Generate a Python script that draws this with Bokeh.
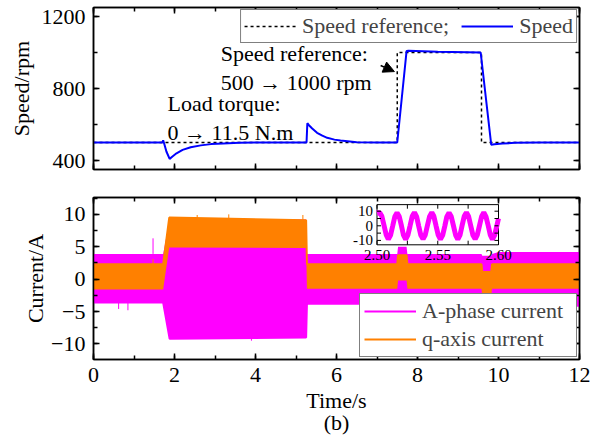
from bokeh.plotting import figure
from bokeh.layouts import column
from bokeh.models import (Range1d, SingleIntervalTicker, LinearAxis, Legend,
                          LegendItem, Label, Arrow, NormalHead, CustomJSTickFormatter)
from bokeh.embed import file_html
from bokeh.resources import INLINE
from bokeh.core.properties import value

FONT = "'Liberation Serif', serif"
FS = "22px"
BLUE = "#0000FF"
MAG = "#FF00FF"
ORA = "#FF8000"

# ---------------- data ----------------
# speed reference (rpm)
ref_t = [0, 7.50, 7.50, 9.58, 9.58, 12]
ref_v = [500, 500, 1000, 1000, 500, 500]

# measured speed (rpm)
spd_t = [0, 1.70, 1.72, 1.75, 1.80, 1.88, 1.95, 2.05, 2.20, 2.40, 2.65, 2.90, 3.20, 3.60, 4.00,
         5.26, 5.28, 5.32, 5.40, 5.52, 5.65, 5.77, 5.95, 6.10, 6.50, 7.00, 7.50, 7.73, 7.78, 8.50,
         9.56, 9.82, 9.90, 10.10, 10.40, 11.0, 12.0]
spd_v = [500, 500, 512, 490, 450, 409, 422, 440, 459, 474, 484, 491, 495, 498, 500,
         500, 607, 596, 578, 554, 538, 526, 516, 511, 502, 500, 500, 1008, 1010, 1004,
         1000, 488, 490, 494, 498, 500, 500]

# A-phase current envelope (A)
mag_t = [0, 1.72, 1.88, 5.25, 5.27, 7.50, 7.52, 7.73, 7.75, 9.58, 9.60, 9.82, 9.84, 10.0, 12]
mag_hi = [3.9, 3.9, 9.3, 9.2, 3.9, 3.9, 5.0, 5.0, 3.9, 3.9, 3.6, 3.6, 3.9, 4.2, 4.2]
mag_lo = [-3.6, -3.6, -9.2, -9.0, -3.8, -3.8, -3.6, -3.6, -3.8, -3.8, -4.6, -4.6, -3.8, -3.9, -4.1]

# q-axis current envelope (A)
q_t = [0, 1.72, 1.87, 5.25, 5.27, 7.50, 7.52, 7.73, 7.75, 9.58, 9.60, 9.82, 9.84, 12]
q_hi = [2.3, 2.3, 9.5, 9.1, 2.3, 2.3, 3.7, 3.7, 2.3, 2.3, 1.1, 1.1, 2.3, 2.3]
q_lo = [-1.6, -1.6, 4.9, 4.8, -1.5, -1.5, -0.2, -0.2, -1.5, -1.5, -2.7, -2.7, -1.5, -1.5]

# noise spikes
mag_spk_t = [0.62, 0.85, 1.47, 3.9, 11.9]
mag_spk_lo = [-4.6, -4.8, 3.9, -9.2, -4.6]
mag_spk_hi = [-3.6, -3.6, 6.3, -9.5, -4.1]
q_spk_t = [1.47, 2.56, 3.34, 5.17]
q_spk_lo = [2.3, 9.4, 9.4, 9.1]
q_spk_hi = [3.1, 9.9, 10.0, 9.9]

# zoomed A-phase current (inset)
ins_t = [2.5000, 2.5022, 2.5040, 2.5058, 2.5076, 2.5093, 2.5111, 2.5129, 2.5147, 2.5165, 2.5183,
         2.5201, 2.5218, 2.5236, 2.5254, 2.5272, 2.5290, 2.5308, 2.5326, 2.5343, 2.5361, 2.5379,
         2.5397, 2.5415, 2.5433, 2.5451, 2.5468, 2.5486, 2.5504, 2.5522, 2.5540, 2.5558, 2.5575,
         2.5593, 2.5611, 2.5629, 2.5647, 2.5665, 2.5683, 2.5700, 2.5718, 2.5736, 2.5754, 2.5772,
         2.5790, 2.5808, 2.5825, 2.5843, 2.5861, 2.5879, 2.5897, 2.5915, 2.5933, 2.5950, 2.5968,
         2.5986, 2.6000]
ins_a = [8.6,
         9.1, 6.5, 0.2, -6.3, -9.2, -6.5, -0.1, 6.4,
         9.0, 6.4, 0.1, -6.4, -9.3, -6.4, 0.0, 6.5,
         9.2, 6.3, -0.1, -6.5, -9.1, -6.3, 0.2, 6.4,
         9.1, 6.5, 0.0, -6.4, -9.2, -6.5, -0.2, 6.3,
         9.0, 6.4, 0.1, -6.3, -9.3, -6.4, 0.1, 6.5,
         9.2, 6.4, -0.1, -6.5, -9.1, -6.4, 0.0, 6.4,
         9.1, 6.3, 0.2, -6.4, -9.2, -6.5, -0.1,
         5.0]

ins_xticks = [2.50, 2.55, 2.60]
ins_xminor = [2.525, 2.575]
ins_yticks = [-10, 0, 10]
ins_yminor = [-5, 5]
ins_xlabels = ["2.50", "2.55", "2.60"]
ins_ylabels = ["-10", "0", "10"]

# ---------------- helpers ----------------
blank = CustomJSTickFormatter(code="return ''")


def style_axis(ax, ticker, labels=True):
    ax.ticker = ticker
    ax.axis_line_color = "black"
    ax.axis_line_width = 1.5
    ax.major_tick_in = 6
    ax.major_tick_out = 0
    ax.minor_tick_in = 4
    ax.minor_tick_out = 0
    ax.major_tick_line_color = "black"
    ax.minor_tick_line_color = "black"
    ax.major_tick_line_width = 1.5
    ax.minor_tick_line_width = 1.5
    ax.major_label_text_font = FONT
    ax.major_label_text_color = "black"
    ax.axis_label_text_font = FONT
    ax.axis_label_text_font_size = FS
    ax.axis_label_text_font_style = "normal"
    ax.axis_label_text_color = "black"
    if labels:
        ax.major_label_text_font_size = FS
        ax.major_label_standoff = 8
    else:
        ax.formatter = blank
        ax.major_label_text_font_size = "0px"
        ax.major_label_standoff = 0


def base_fig(frame_h, yr, mb_top, mb_bottom):
    p = figure(frame_width=486, frame_height=frame_h, x_range=Range1d(0, 12), y_range=yr,
               output_backend="svg", toolbar_location=None,
               min_border_left=93, min_border_right=15,
               min_border_top=mb_top, min_border_bottom=mb_bottom)
    p.xgrid.visible = False
    p.ygrid.visible = False
    p.outline_line_color = "black"
    p.outline_line_width = 1.5
    p.background_fill_color = "white"
    p.border_fill_color = "white"
    return p


xtick = SingleIntervalTicker(interval=2, num_minor_ticks=2)

# ---------------- top: speed ----------------
p1 = base_fig(162, Range1d(350, 1250), 7, 18)
ytick1 = SingleIntervalTicker(interval=400, num_minor_ticks=2)
style_axis(p1.xaxis[0], xtick, labels=False)
style_axis(p1.yaxis[0], ytick1)
p1.yaxis[0].axis_label = "Speed/rpm"
p1.yaxis[0].axis_label_standoff = 5
ax_top = LinearAxis()
style_axis(ax_top, xtick, labels=False)
p1.add_layout(ax_top, "above")
ax_r1 = LinearAxis()
style_axis(ax_r1, ytick1, labels=False)
p1.add_layout(ax_r1, "right")

r_ref = p1.line(ref_t, ref_v, line_color="black", line_width=1.5, line_dash="3 3")
r_spd = p1.line(spd_t, spd_v, line_color=BLUE, line_width=2)

leg1 = Legend(items=[LegendItem(label="Speed reference;", renderers=[r_ref]),
                     LegendItem(label="Speed", renderers=[r_spd])],
              orientation="horizontal", location="top_right", margin=2, padding=3,
              spacing=12, glyph_width=52, label_standoff=6,
              label_text_font=FONT, label_text_font_size=FS,
              border_line_color="black", border_line_width=1.5,
              background_fill_alpha=1)
p1.add_layout(leg1)

for (x, y, t) in [(3.14, 994, "Speed reference:"), (3.14, 833, "500 \u2192 1000 rpm"),
                  (1.83, 717, "Load torque:"), (1.83, 556, "0 \u2192 11.5 N.m")]:
    p1.add_layout(Label(x=x, y=y, text=t, text_font=FONT, text_font_size=FS,
                        text_baseline="middle", text_color="black"))
p1.add_layout(Arrow(end=NormalHead(size=11, fill_color="black", line_color="black"),
                    x_start=7.09, y_start=928, x_end=7.43, y_end=894,
                    line_color="black", line_width=1.5))

# ---------------- bottom: current ----------------
p2 = base_fig(162, Range1d(-12.4, 12.6), 10, 40)
ytick2 = SingleIntervalTicker(interval=5, num_minor_ticks=2)
style_axis(p2.xaxis[0], xtick)
style_axis(p2.yaxis[0], ytick2)
p2.xaxis[0].axis_label = "Time/s\n(b)"
p2.xaxis[0].axis_label_standoff = 3
p2.xaxis[0].axis_label_text_line_height = 0.88
p2.yaxis[0].axis_label = "Current/A"
p2.yaxis[0].axis_label_standoff = 0
ax_top2 = LinearAxis()
style_axis(ax_top2, xtick, labels=False)
p2.add_layout(ax_top2, "above")
ax_r2 = LinearAxis()
style_axis(ax_r2, ytick2, labels=False)
p2.add_layout(ax_r2, "right")

r_mag = p2.varea(x=mag_t, y1=mag_lo, y2=mag_hi, fill_color=MAG)
r_mag_edge = p2.line(mag_t, mag_lo, line_color=MAG, line_width=2)
p2.segment(x0=mag_spk_t, y0=mag_spk_lo, x1=mag_spk_t, y1=mag_spk_hi, line_color=MAG, line_width=1)
r_q = p2.varea(x=q_t, y1=q_lo, y2=q_hi, fill_color=ORA)
r_q_edge = p2.line(q_t, q_hi, line_color=ORA, line_width=2)
p2.segment(x0=q_spk_t, y0=q_spk_lo, x1=q_spk_t, y1=q_spk_hi, line_color=ORA, line_width=1)

leg2 = Legend(items=[LegendItem(label="A-phase current", renderers=[r_mag_edge]),
                     LegendItem(label="q-axis current", renderers=[r_q_edge])],
              location="bottom_right", margin=2, padding=4, spacing=2,
              glyph_width=52, label_standoff=6, label_width=150,
              label_text_font=FONT, label_text_font_size=FS,
              border_line_color="black", border_line_width=1.5,
              background_fill_alpha=1)
p2.add_layout(leg2)

# ---------------- inset ----------------
IX0, IX1 = 2.50, 2.60
IY0, IY1 = -13.0, 14.5
ins = p2.subplot(x_source=Range1d(IX0, IX1), y_source=Range1d(IY0, IY1),
                 x_target=Range1d(7.0, 10.0), y_target=Range1d(5.3, 11.5))
ins.quad(left=[IX0], right=[IX1], bottom=[IY0], top=[IY1], fill_color="white",
         line_color="black", line_width=1)
ins.line(ins_t, ins_a, line_color=MAG, line_width=5)

tl_y = 2.8      # ~4 px in inset y units
tl_x = 0.0033   # ~4 px in inset x units
xt = ins_xticks + ins_xminor
ins.segment(x0=xt, y0=[IY0] * len(xt), x1=xt, y1=[IY0 + tl_y] * len(xt), line_color="black", line_width=1)
ins.segment(x0=xt, y0=[IY1] * len(xt), x1=xt, y1=[IY1 - tl_y] * len(xt), line_color="black", line_width=1)
yt = ins_yticks + ins_yminor
ins.segment(x0=[IX0] * len(yt), y0=yt, x1=[IX0 + tl_x] * len(yt), y1=yt, line_color="black", line_width=1)
ins.segment(x0=[IX1] * len(yt), y0=yt, x1=[IX1 - tl_x] * len(yt), y1=yt, line_color="black", line_width=1)
ins.text(x=ins_xticks, y=[IY0 - 3.4] * 3, text=ins_xlabels, text_align="center",
         text_baseline="top", text_font=value(FONT), text_font_size=value("15px"), text_color="black")
ins.text(x=[IX0] * 3, y=ins_yticks, text=ins_ylabels, text_align="right", x_offset=-4,
         text_baseline="middle", text_font=value(FONT), text_font_size=value("15px"), text_color="black")

layout = column(p1, p2)
open("out.html", "w").write(file_html(layout, INLINE))
